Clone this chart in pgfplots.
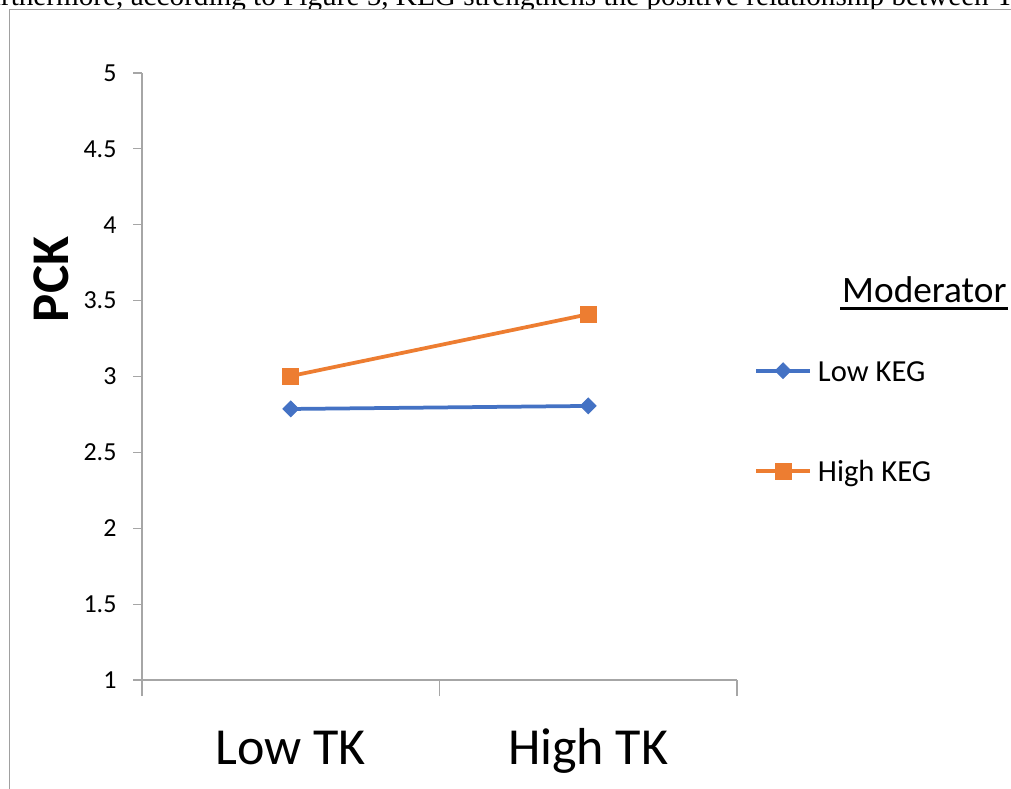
\documentclass[border=0pt]{standalone}
\usepackage{fontspec}
\setmainfont{Carlito}
\newfontfamily\timesfont{Liberation Serif}
\usepackage{pgfplots}
\pgfplotsset{compat=1.18}
\definecolor{xlblue}{HTML}{4472C4}
\definecolor{xlorange}{HTML}{ED7D31}
\definecolor{axgray}{HTML}{A6A6A6}
\definecolor{framegray}{HTML}{A0A0A0}

\begin{document}
\begin{tikzpicture}[x=1pt,y=1pt]
\useasboundingbox (0,0) rectangle (1011,788);
\clip (0,0) rectangle (1011,788);
% page text cut off above the chart frame
\node[anchor=base west, inner sep=0pt, font=\timesfont\fontsize{29.2}{34}\selectfont] at (-30,782.3)
  {Furthermore, according to Figure 5, KEG strengthens the positive relationship between TK and PCK};
% chart area (white, covers the descenders) and its frame
\fill[white] (9.5,-5) rectangle (1020,778.5);
\draw[framegray, line width=1.3pt] (9.5,-5) -- (9.5,778.5) -- (1020,778.5);

\begin{axis}[
  at={(142pt,108pt)}, anchor=south west,
  scale only axis, width=595pt, height=607pt,
  xmin=0, xmax=2, ymin=1, ymax=5,
  axis x line*=bottom, axis y line*=left,
  axis line style={axgray, line width=1.2pt},
  xtick={0.5,1.5}, xticklabels={Low TK, High TK},
  major x tick style={draw=none},
  minor xtick={0,1,2},
  ytick={1,1.5,2,2.5,3,3.5,4,4.5,5},
  yticklabels={1,1.5,2,2.5,3,3.5,4,4.5,5},
  tick align=outside,
  major tick length=9pt, minor tick length=16pt,
  every tick/.append style={axgray, line width=1.2pt},
  yticklabel style={font=\fontsize{26}{30}\selectfont, xshift=-13pt},
  xticklabel style={font=\fontsize{52}{60}\selectfont, anchor=base, yshift=-75pt},
  legend cell align=left,
  legend image code/.code={\draw[mark repeat=2,mark phase=2,#1,yshift=3pt] plot coordinates {(0pt,0pt) (27pt,0pt) (54pt,0pt)};},
  legend style={at={(1.0286,0.5289)}, anchor=north west, draw=none, fill=none,
    inner sep=0pt, column sep=6pt, row sep=71.5pt,
    nodes={inner sep=0pt, text height=22pt, text depth=7pt, font=\fontsize{30.6}{36}\selectfont}},
]
\addplot[xlblue, line width=3.75pt, mark=square*, mark size=5.5pt,
  mark options={rotate=45, line width=1pt}] coordinates {(0.5,2.786) (1.5,2.806)};
\addlegendentry{Low KEG}
\addplot[xlorange, line width=3.75pt, mark=square*, mark size=8pt,
  mark options={line width=1pt}] coordinates {(0.5,3.003) (1.5,3.41)};
\addlegendentry{High KEG}
\end{axis}

\node[rotate=90, anchor=base, inner sep=0pt, font=\bfseries\fontsize{53}{60}\selectfont] at (68,508.5) {PCK};
\node[anchor=base west, inner sep=0pt, font=\fontsize{37.3}{42}\selectfont] (mod) at (842,485) {Moderator};
\draw[line width=3pt] ([xshift=-2pt,yshift=-6pt]mod.base west) -- ([xshift=1pt,yshift=-6pt]mod.base east);
\end{tikzpicture}
\end{document}
